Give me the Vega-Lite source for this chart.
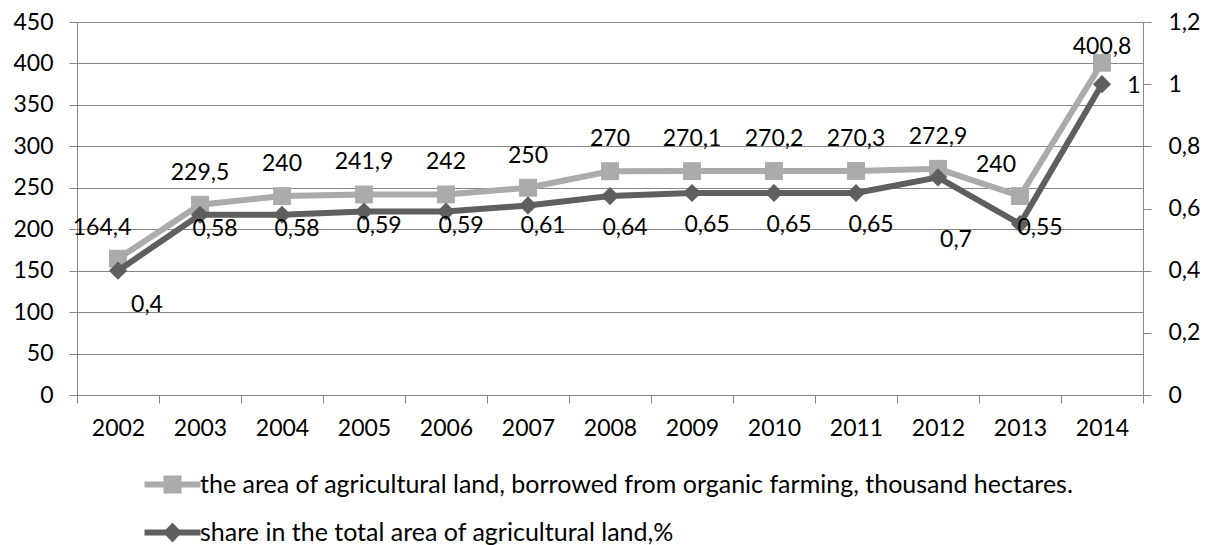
{
  "$schema": "https://vega.github.io/schema/vega-lite/v6.json",
  "width": 1066,
  "height": 373,
  "autosize": {"type": "none"},
  "padding": {"left": 77, "top": 22, "right": 62, "bottom": 150},
  "background": "white",
  "config": {
    "locale": {"number": {"decimal": ",", "thousands": " ", "grouping": [3], "currency": ["", ""]}},
    "font": "Lato",
    "view": {"stroke": null},
    "axis": {
      "labelFont": "Lato",
      "labelFontSize": 23,
      "labelColor": "#000000",
      "domainColor": "#868686",
      "tickColor": "#868686",
      "gridColor": "#868686",
      "tickSize": 8,
      "labelPadding": 14,
      "title": null
    },
    "text": {"font": "Lato", "fontSize": 23, "color": "#000000", "baseline": "middle", "align": "center"}
  },
  "data": {
    "values": [
      {"year": "2002", "area": 164.4, "share": 0.4},
      {"year": "2003", "area": 229.5, "share": 0.58},
      {"year": "2004", "area": 240, "share": 0.58},
      {"year": "2005", "area": 241.9, "share": 0.59},
      {"year": "2006", "area": 242, "share": 0.59},
      {"year": "2007", "area": 250, "share": 0.61},
      {"year": "2008", "area": 270, "share": 0.64},
      {"year": "2009", "area": 270.1, "share": 0.65},
      {"year": "2010", "area": 270.2, "share": 0.65},
      {"year": "2011", "area": 270.3, "share": 0.65},
      {"year": "2012", "area": 272.9, "share": 0.7},
      {"year": "2013", "area": 240, "share": 0.55},
      {"year": "2014", "area": 400.8, "share": 1}
    ]
  },
  "encoding": {
    "x": {
      "field": "year", "type": "nominal", "bandPosition": 0.5,
      "scale": {"type": "band", "paddingInner": 0, "paddingOuter": 0},
      "axis": {"labelAngle": 0, "tickBand": "extent", "grid": false, "labelPadding": 14}
    }
  },
  "layer": [
    {
      "encoding": {
        "y": {
          "field": "area", "type": "quantitative",
          "scale": {"domain": [0, 450], "nice": false, "zero": true},
          "axis": {"orient": "left", "values": [0, 50, 100, 150, 200, 250, 300, 350, 400, 450], "grid": true, "format": "d", "labelPadding": 16}
        }
      },
      "layer": [
        {
          "mark": {"type": "line", "strokeWidth": 6},
          "encoding": {
            "color": {
              "datum": "the area of agricultural land, borrowed from organic farming, thousand hectares.",
              "scale": {
                "domain": ["the area of agricultural land, borrowed from organic farming, thousand hectares.", "share in the total area of agricultural land,%"],
                "range": ["#ABABAB", "#5F5F5F"]
              },
              "legend": {
                "orient": "none", "legendX": 65, "legendY": 450, "direction": "vertical",
                "title": null, "padding": 0, "rowPadding": 22,
                "symbolSize": 400, "labelOffset": 33,
                "labelFont": "Lato", "labelFontSize": 25, "labelColor": "#000000",
                "labelLimit": 1100,
                "symbolStrokeWidth": 0,
                "encode": {
                  "symbols": {
                    "update": {
                      "shape": {"signal": "datum.value === 'share in the total area of agricultural land,%' ? 'M-1,-0.3H4.6V0.3H-1Z M1.8,-1L2.75,0L1.8,1L0.85,0Z' : 'M-1,-0.3H4.6V0.3H-1Z M0.9,-0.9H2.7V0.9H0.9Z'"},
                      "fill": {"signal": "datum.value === 'share in the total area of agricultural land,%' ? '#5F5F5F' : '#ABABAB'"},
                      "stroke": {"value": "transparent"},
                      "strokeWidth": {"value": 0},
                      "opacity": {"value": 1},
                      "fillOpacity": {"value": 1}
                    }
                  }
                }
              }
            }
          }
        },
        {
          "mark": {"type": "point", "shape": "square", "filled": true, "size": 320, "opacity": 1},
          "encoding": {"color": {"datum": "the area of agricultural land, borrowed from organic farming, thousand hectares."}}
        },
        {
          "transform": [{"filter": {"field": "year", "oneOf": ["2003", "2004", "2005", "2006", "2007", "2008", "2009", "2010", "2011", "2012"]}}],
          "mark": {"type": "text", "dy": -32},
          "encoding": {"text": {"field": "area", "type": "quantitative", "format": "~g"}}
        },
        {
          "transform": [{"filter": {"field": "year", "oneOf": ["2002"]}}],
          "mark": {"type": "text", "dx": -16, "dy": -31},
          "encoding": {"text": {"field": "area", "type": "quantitative", "format": "~g"}}
        },
        {
          "transform": [{"filter": {"field": "year", "oneOf": ["2013"]}}],
          "mark": {"type": "text", "dx": -24, "dy": -31},
          "encoding": {"text": {"field": "area", "type": "quantitative", "format": "~g"}}
        },
        {
          "transform": [{"filter": {"field": "year", "oneOf": ["2014"]}}],
          "mark": {"type": "text", "dx": 0, "dy": -16},
          "encoding": {"text": {"field": "area", "type": "quantitative", "format": "~g"}}
        }
      ]
    },
    {
      "encoding": {
        "y": {
          "field": "share", "type": "quantitative",
          "scale": {"domain": [0, 1.2], "nice": false, "zero": true},
          "axis": {"orient": "right", "values": [0, 0.2, 0.4, 0.6, 0.8, 1, 1.2], "grid": false, "format": "~g", "labelPadding": 17}
        }
      },
      "layer": [
        {
          "mark": {"type": "line", "strokeWidth": 6},
          "encoding": {"color": {"datum": "share in the total area of agricultural land,%"}}
        },
        {
          "mark": {"type": "point", "shape": "diamond", "filled": true, "size": 330, "opacity": 1},
          "encoding": {"color": {"datum": "share in the total area of agricultural land,%"}}
        },
        {
          "transform": [{"filter": {"field": "year", "oneOf": ["2003", "2004", "2005", "2006"]}}],
          "mark": {"type": "text", "dx": 15, "dy": 14},
          "encoding": {"text": {"field": "share", "type": "quantitative", "format": "~g"}}
        },
        {
          "transform": [{"filter": {"field": "year", "oneOf": ["2007"]}}],
          "mark": {"type": "text", "dx": 15, "dy": 21},
          "encoding": {"text": {"field": "share", "type": "quantitative", "format": "~g"}}
        },
        {
          "transform": [{"filter": {"field": "year", "oneOf": ["2008", "2009", "2010", "2011"]}}],
          "mark": {"type": "text", "dx": 15, "dy": 32},
          "encoding": {"text": {"field": "share", "type": "quantitative", "format": "~g"}}
        },
        {
          "transform": [{"filter": {"field": "year", "oneOf": ["2002"]}}],
          "mark": {"type": "text", "dx": 29, "dy": 34},
          "encoding": {"text": {"field": "share", "type": "quantitative", "format": "~g"}}
        },
        {
          "transform": [{"filter": {"field": "year", "oneOf": ["2012"]}}],
          "mark": {"type": "text", "dx": 18, "dy": 63},
          "encoding": {"text": {"field": "share", "type": "quantitative", "format": "~g"}}
        },
        {
          "transform": [{"filter": {"field": "year", "oneOf": ["2013"]}}],
          "mark": {"type": "text", "dx": 20, "dy": 4},
          "encoding": {"text": {"field": "share", "type": "quantitative", "format": "~g"}}
        },
        {
          "transform": [{"filter": {"field": "year", "oneOf": ["2014"]}}],
          "mark": {"type": "text", "dx": 32, "dy": 2},
          "encoding": {"text": {"field": "share", "type": "quantitative", "format": "~g"}}
        }
      ]
    }
  ],
  "resolve": {"scale": {"y": "independent"}}
}
